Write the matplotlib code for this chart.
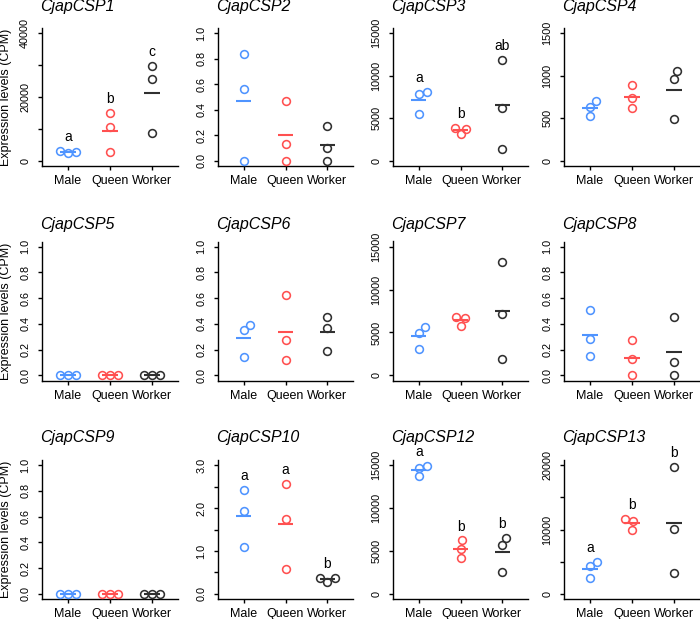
import numpy as np
import matplotlib
matplotlib.use("Agg")
import matplotlib.pyplot as plt

plt.rcParams["font.family"] = ["Liberation Sans", "DejaVu Sans"]

# data (CPM)
genes = ["CjapCSP1", "CjapCSP2", "CjapCSP3", "CjapCSP4",
         "CjapCSP5", "CjapCSP6", "CjapCSP7", "CjapCSP8",
         "CjapCSP9", "CjapCSP10", "CjapCSP12", "CjapCSP13"]
castes = ["Male", "Queen", "Worker"]

male = [[3100, 2400, 2900], [0.84, 0.56, 0.0], [7800, 8050, 5450], [635, 700, 530],
        [0.0, 0.0, 0.0], [0.35, 0.39, 0.14], [4950, 5650, 3050], [0.51, 0.28, 0.15],
        [0.0, 0.0, 0.0], [2.42, 1.94, 1.09], [14950, 14700, 13700], [4300, 4900, 2450]]
queen = [[14900, 10500, 2900], [0.47, 0.13, 0.0], [3850, 3800, 3100], [895, 740, 625],
         [0.0, 0.0, 0.0], [0.625, 0.275, 0.12], [6850, 6650, 5800], [0.275, 0.13, 0.0],
         [0.0, 0.0, 0.0], [2.57, 1.74, 0.58], [6230, 5260, 4170], [11700, 11270, 9970]]
worker = [[29700, 25500, 8850], [0.27, 0.10, 0.0], [11900, 6250, 1450], [1050, 960, 490],
          [0.0, 0.0, 0.0], [0.45, 0.37, 0.19], [13200, 7200, 1950], [0.45, 0.10, 0.0],
          [0.0, 0.0, 0.0], [0.37, 0.36, 0.28], [6500, 5650, 2600], [19700, 10080, 3220]]

# significance letters (None = no letters shown)
letters = [["a", "b", "c"], None, ["a", "b", "ab"], None,
           None, None, None, None,
           None, ["a", "a", "b"], ["a", "b", "b"], ["a", "b", "b"]]

# y axis: max, tick step, label every n ticks, decimals
y_max = [40000, 1.0, 15000, 1500, 1.0, 1.0, 15000, 1.0, 1.0, 3.0, 15000, 20000]
y_step = [10000, 0.2, 5000, 500, 0.2, 0.2, 5000, 0.2, 0.2, 0.5, 5000, 5000]
y_every = [2, 1, 1, 1, 1, 1, 1, 1, 1, 2, 1, 2]
y_dec = [0, 1, 0, 0, 1, 1, 0, 1, 1, 1, 0, 0]

colors = ["#4f94ff", "#ff5050", "#303030"]

W, H = 700, 619
fig = plt.figure(figsize=(W / 100, H / 100), dpi=100)

col_left = [42, 218, 393, 564]
col_right = [178, 353, 528, 700]
row_top = [28, 241.5, 460]
row_bot = [166, 380.5, 599]
title_base = [11, 229, 442]

D = 8.4  # swarm spacing in px


def swarm(ypx):
    order = np.argsort(ypx, kind="stable")
    xs, ys = [], []
    out = np.zeros(len(ypx))
    for i in order:
        y = ypx[i]
        cand = [0.0]
        plus, minus = [], []
        for px, py in zip(xs, ys):
            dy = abs(y - py)
            if dy < D:
                off = np.sqrt(D ** 2 - dy ** 2)
                plus.append(px + off)
                minus.append(px - off)
        cand += plus + minus
        ok = [c for c in cand
              if all((c - px) ** 2 + (y - py) ** 2 >= D ** 2 - 1e-6 for px, py in zip(xs, ys))]
        best = ok[int(np.argmin([abs(c) for c in ok]))]
        xs.append(best)
        ys.append(y)
        out[i] = best
    return out


for k, gene in enumerate(genes):
    r, c = divmod(k, 4)
    l, rr = col_left[c], col_right[c]
    t, b = row_top[r], row_bot[r]
    ax = fig.add_axes([l / W, 1 - b / H, (rr - l) / W, (b - t) / H])
    ym = y_max[k]
    ax.set_xlim(0.38, 3.62)
    ax.set_ylim(-0.04 * ym, 1.04 * ym)

    px_per_x = (rr - l) / 3.24
    groups = [male[k], queen[k], worker[k]]
    for g, vals in enumerate(groups):
        vals = np.array(vals, dtype=float)
        ypx = ax.transData.transform(np.column_stack([np.ones(3), vals]))[:, 1]
        dx = swarm(ypx) / px_per_x
        m = vals.mean()
        ax.plot([g + 1 - 0.18, g + 1 + 0.18], [m, m], color=colors[g], lw=1.5,
                solid_capstyle="butt", zorder=2)
        ax.plot(g + 1 + dx, vals, "o", ms=5.6, mfc="none", mec=colors[g],
                mew=1.15, zorder=3, clip_on=False)
        if letters[k] is not None:
            ax.annotate(letters[k][g], (g + 1, vals.max()), xytext=(0, 10),
                        textcoords="offset points", ha="center", va="center",
                        fontsize=10)

    ticks = np.arange(0, ym + y_step[k] / 2, y_step[k])
    labs = [f"{v:.{y_dec[k]}f}" if i % y_every[k] == 0 else ""
            for i, v in enumerate(ticks)]
    ax.set_yticks(ticks)
    ax.set_yticklabels(labs, rotation=90, va="center")
    ax.set_xticks([1, 2, 3])
    ax.set_xticklabels(castes)

    ax.spines["top"].set_visible(False)
    ax.spines["right"].set_visible(False)
    for s in ["left", "bottom"]:
        ax.spines[s].set_linewidth(1.0)
    ax.tick_params(axis="y", length=3, width=1.0, pad=5.5, labelsize=7.8)
    ax.tick_params(axis="x", length=3, width=1.0, pad=3.5, labelsize=9)

    fig.text((l - 1.5) / W, 1 - title_base[r] / H, gene, fontsize=11.5,
             style="italic", ha="left", va="baseline")
    if c == 0:
        fig.text(6 / W, 1 - (t + b) / 2 / H, "Expression levels (CPM)",
                 rotation=90, ha="center", va="center", fontsize=9)

fig.savefig("out.png", dpi=100)
